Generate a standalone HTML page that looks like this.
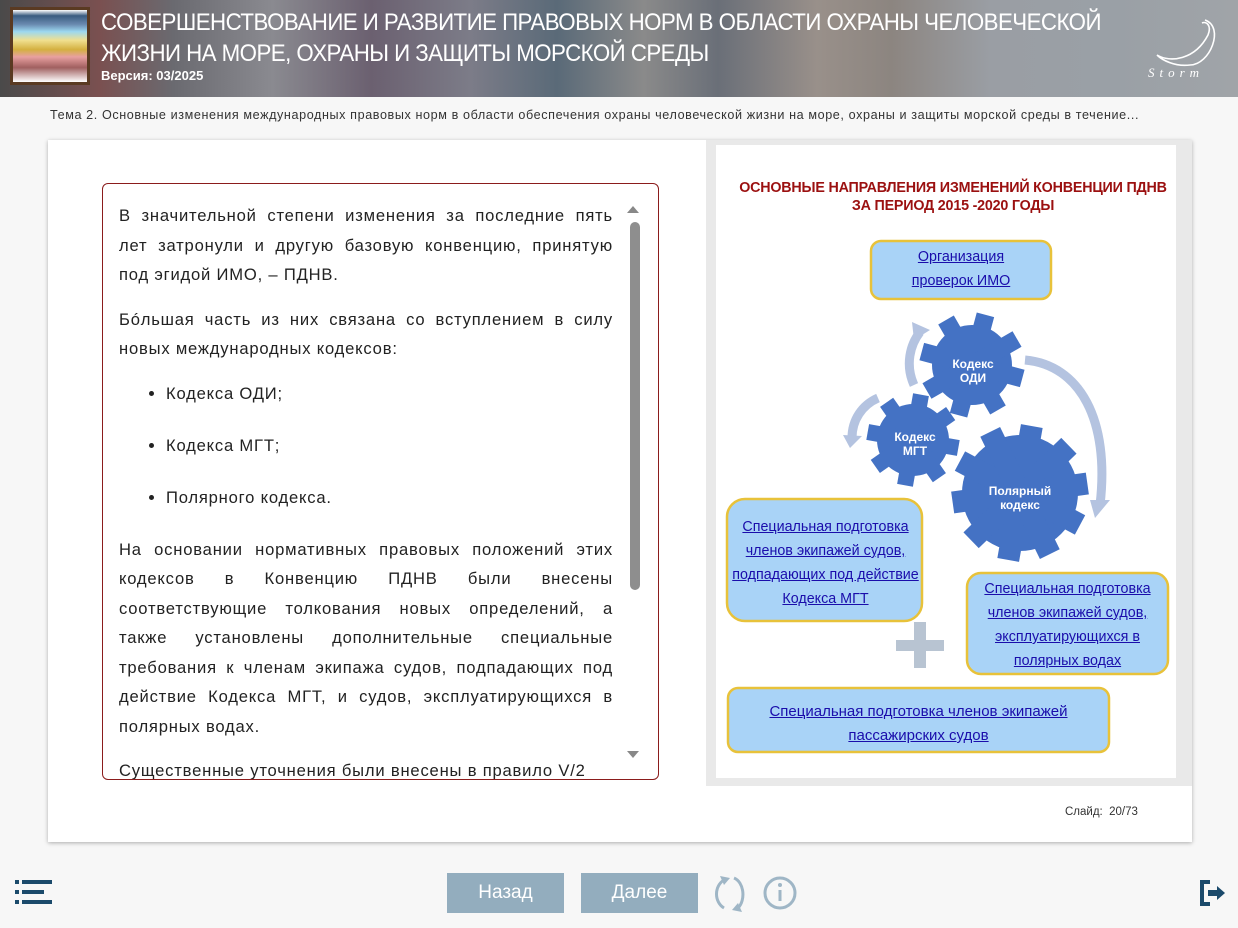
<!DOCTYPE html>
<html><head><meta charset="utf-8"><style>
*{margin:0;padding:0;box-sizing:border-box}
body{width:1238px;height:928px;background:#f7f7f7;font-family:"Liberation Sans",sans-serif;position:relative;overflow:hidden}
.hdr{position:absolute;left:0;top:0;width:1238px;height:97px;background:linear-gradient(90deg,#4a4a4a 0%,#7a5050 8%,#6a6a70 14%,#8a8a90 22%,#6b6070 30%,#7c7c88 38%,#5a6a78 45%,#8a8a8a 52%,#6a6f78 58%,#99908a 66%,#8c8580 72%,#9a9ea4 80%,#9aa0a6 90%,#a0a4a8 100%)}
.thumb{position:absolute;left:10px;top:7px;width:80px;height:78px;background:#5a3a22;padding:3px}
.thumb div{width:100%;height:100%;background:linear-gradient(180deg,#fff 0%,#3a5c80 8%,#6a8ab0 20%,#9cd8f0 30%,#f0e090 42%,#d4b040 55%,#e8a0a0 65%,#a06060 80%,#fff 100%)}
.title{position:absolute;left:101px;top:7px;color:#fff;font-size:24.5px;line-height:31px;letter-spacing:-0.6px;transform:scaleX(.91);transform-origin:left;white-space:nowrap}
.ver{position:absolute;left:101px;top:68px;color:#fff;font-size:13px;font-weight:bold}
.topic{position:absolute;left:50px;top:108px;font-size:12.6px;letter-spacing:.6px;color:#333;white-space:nowrap}
.card{position:absolute;left:48px;top:140px;width:1144px;height:702px;background:#fff;box-shadow:0 1px 4px rgba(0,0,0,.3)}
.box{position:absolute;left:102px;top:183px;width:557px;height:597px;border:1px solid #8b1c1c;border-radius:6px;overflow:hidden;background:#fff}
.txt{position:absolute;left:16px;top:17px;width:494px;font-size:16.6px;letter-spacing:.8px;line-height:29.5px;color:#222;text-align:justify}
.txt p{margin-bottom:15px}
.txt ul{margin:0 0 15px 47px}
.txt li{margin-bottom:22.5px}
.sb{position:absolute;left:527px;width:10px;background:#8e8e8e;border-radius:5px}
.panel{position:absolute;left:706px;top:140px;width:486px;height:646px;background:#e9e9e9}
.inner{position:absolute;left:716px;top:145px;width:460px;height:633px;background:#fff}
.slide{position:absolute;left:1065px;top:806px;font-size:11.5px;color:#333}
.btn{position:absolute;top:873px;width:117px;height:40px;background:#93adbe;color:#fff;font-size:19px;text-align:center;line-height:40px}
.nb{position:absolute;font-size:14.3px;line-height:24px;text-align:center;color:#1a0dab;text-decoration:underline}
</style></head><body>
<div class="hdr"></div>
<div class="thumb"><div></div></div>
<div class="title">СОВЕРШЕНСТВОВАНИЕ И РАЗВИТИЕ ПРАВОВЫХ НОРМ В ОБЛАСТИ ОХРАНЫ ЧЕЛОВЕЧЕСКОЙ<br>ЖИЗНИ НА МОРЕ, ОХРАНЫ И ЗАЩИТЫ МОРСКОЙ СРЕДЫ</div>
<div class="ver">Версия: 03/2025</div>
<svg style="position:absolute;left:1140px;top:15px" width="90" height="70"><path d="M65 5 C85 12 70 50 50 50 C35 52 22 45 17 40 C30 48 55 45 68 20 C72 10 66 6 62 8" fill="none" stroke="#fff" stroke-width="1.6"/><text x="8" y="62" fill="#fff" font-size="13" font-style="italic" letter-spacing="5" font-family="Liberation Serif,serif">Storm</text></svg>
<div class="topic">Тема 2. Основные изменения международных правовых норм в области обеспечения охраны человеческой жизни на море, охраны и защиты морской среды в течение...</div>
<div class="card"></div>
<div class="box">
<div class="txt">
<p>В значительной степени изменения за последние пять лет затронули и другую базовую конвенцию, принятую под эгидой ИМО, – ПДНВ.</p>
<p>Бóльшая часть из них связана со вступлением в силу новых международных кодексов:</p>
<ul><li>Кодекса ОДИ;</li><li>Кодекса МГТ;</li><li>Полярного кодекса.</li></ul>
<p>На основании нормативных правовых положений этих кодексов в Конвенцию ПДНВ были внесены соответствующие толкования новых определений, а также установлены дополнительные специальные требования к членам экипажа судов, подпадающих под действие Кодекса МГТ, и судов, эксплуатирующихся в полярных водах.</p>
<p>Существенные уточнения были внесены в правило V/2</p>
</div>
<div style="position:absolute;left:524px;top:22px;width:0;height:0;border:6px solid transparent;border-bottom:7px solid #888;border-top:0"></div>
<div class="sb" style="top:38px;height:368px"></div>
<div style="position:absolute;left:524px;top:567px;width:0;height:0;border:6px solid transparent;border-top:7px solid #888;border-bottom:0"></div>
</div>
<div class="panel"></div>
<div class="inner"></div>
<div style="position:absolute;left:716px;top:179px;width:474px;text-align:center;color:#9b1010;font-weight:bold;font-size:14.3px;line-height:18px;letter-spacing:-.2px">ОСНОВНЫЕ НАПРАВЛЕНИЯ ИЗМЕНЕНИЙ КОНВЕНЦИИ ПДНВ<br>ЗА ПЕРИОД 2015 -2020 ГОДЫ</div>
<svg style="position:absolute;left:0;top:0" width="1238" height="928">
<g fill="none" stroke="#b4c3e0" stroke-width="9">
<path d="M914 385 C905 365 910 345 920 332"/>
<path d="M878 398 C862 405 852 420 852 438"/>
<path d="M1025 360 C1080 365 1110 420 1100 505"/>
</g>
<g fill="#b4c3e0">
<polygon points="912,322 930,330 914,340"/>
<polygon points="843,435 862,436 850,448"/>
<polygon points="1090,500 1110,500 1095,518"/>
</g>
<g fill="#4472c4">
<circle cx="972" cy="365" r="40"/>
<g transform="rotate(15 972 365)"><g id="g1"><rect x="963" y="313" width="18" height="104"/><rect x="920" y="356" width="104" height="18"/></g>
<use href="#g1" transform="rotate(45 972 365)"/></g>
<circle cx="913" cy="440" r="36"/>
<g transform="rotate(10 913 440)"><g id="g2"><rect x="905" y="394" width="16" height="92"/><rect x="867" y="432" width="92" height="16"/></g>
<use href="#g2" transform="rotate(45 913 440)"/></g>
<circle cx="1020" cy="493" r="58"/>
<g transform="rotate(10 1020 493)"><g id="g3"><rect x="1009" y="425" width="22" height="136"/></g>
<use href="#g3" transform="rotate(36 1020 493)"/>
<use href="#g3" transform="rotate(72 1020 493)"/>
<use href="#g3" transform="rotate(108 1020 493)"/>
<use href="#g3" transform="rotate(144 1020 493)"/></g>
</g>
<g fill="#fff" font-weight="bold" font-size="12" text-anchor="middle">
<text x="973" y="368">Кодекс</text><text x="973" y="382">ОДИ</text>
<text x="915" y="441">Кодекс</text><text x="915" y="455">МГТ</text>
<text x="1020" y="495">Полярный</text><text x="1020" y="509">кодекс</text>
</g>
<rect x="896" y="640" width="48" height="11" fill="#b8c4d2"/><rect x="914" y="622" width="12" height="46" fill="#b8c4d2"/>
<g fill="#a9d3f7" stroke="#e8c23a" stroke-width="2.5">
<rect x="871" y="241" width="180" height="58" rx="10"/>
<rect x="727" y="499" width="195" height="122" rx="18"/>
<rect x="967" y="573" width="201" height="101" rx="14"/>
<rect x="728" y="688" width="381" height="64" rx="10"/>
</g>
</svg>
<div class="nb" style="left:871px;top:245px;width:180px">Организация<br>проверок ИМО</div>
<div class="nb" style="left:727px;top:515px;width:197px">Специальная подготовка<br>членов экипажей судов,<br>подпадающих под действие<br>Кодекса МГТ</div>
<div class="nb" style="left:967px;top:577px;width:201px">Специальная подготовка<br>членов экипажей судов,<br>эксплуатирующихся в<br>полярных водах</div>
<div class="nb" style="left:728px;top:700px;width:381px;font-size:15px">Специальная подготовка членов экипажей<br>пассажирских судов</div>
<div class="slide">Слайд:&nbsp; 20/73</div>
<svg style="position:absolute;left:15px;top:880px" width="40" height="26"><g fill="#1b4a6b"><rect x="0" y="0" width="4" height="4"/><rect x="7" y="0" width="30" height="4"/><rect x="0" y="10" width="4" height="4"/><rect x="7" y="10" width="22" height="4"/><rect x="0" y="20" width="4" height="4"/><rect x="7" y="20" width="30" height="4"/></g></svg>
<div class="btn" style="left:447px">Назад</div>
<div class="btn" style="left:581px">Далее</div>
<svg style="position:absolute;left:712px;top:872px" width="90" height="42"><g fill="none" stroke="#9fb6c6" stroke-width="3"><path d="M12 8 C2 14 2 30 12 36"/><path d="M22 6 C32 10 34 28 26 36"/><circle cx="68" cy="21" r="15"/></g><polygon points="8,4 18,6 12,13" fill="#9fb6c6"/><polygon points="30,40 20,38 26,31" fill="#9fb6c6"/><rect x="66.5" y="18" width="3" height="11" fill="#9fb6c6"/><circle cx="68" cy="13" r="2" fill="#9fb6c6"/></svg>
<svg style="position:absolute;left:1200px;top:880px" width="30" height="28"><path d="M10 2 H2 V24 H10" fill="none" stroke="#1b4a6b" stroke-width="4"/><rect x="8" y="10" width="10" height="6" fill="#1b4a6b"/><polygon points="17,6 25,13 17,20" fill="#1b4a6b"/></svg>
</body></html>
